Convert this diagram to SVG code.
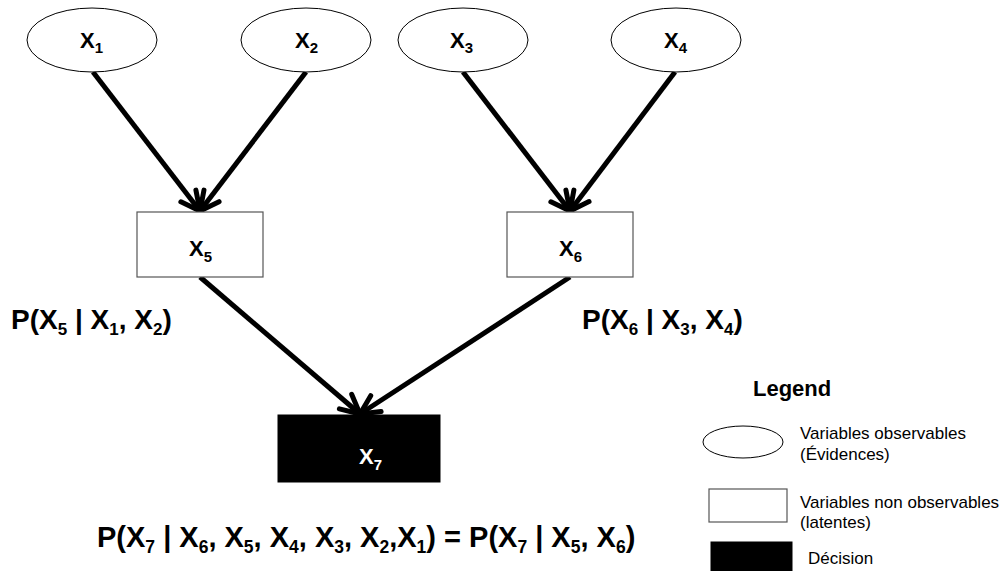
<svg xmlns="http://www.w3.org/2000/svg" width="1003" height="571" viewBox="0 0 1003 571">
<style>
.bg{fill:#fff}
.ell{fill:#fff;stroke:#000;stroke-width:1}
.box{fill:#fff;stroke:#555;stroke-width:1.2}
.dec{fill:#000;stroke:#000;stroke-width:1}
.lbl{font-family:"Liberation Sans",Arial,sans-serif;font-weight:bold;font-size:22px;fill:#000}
.lbl .sub{font-size:15px}
.wht{fill:#fff}
.eq{font-family:"Liberation Sans",Arial,sans-serif;font-weight:bold;font-size:28px;fill:#000}
.eq .sub{font-size:17px}
.cap{font-size:29px}
.cap .sub{font-size:17.5px}
.leg{font-family:"Liberation Sans",Arial,sans-serif;font-size:17px;fill:#000}
.legt{font-family:"Liberation Sans",Arial,sans-serif;font-weight:bold;font-size:22px;fill:#000}
.edge{stroke:#000;stroke-width:5;fill:none;marker-end:url(#arr)}
</style>
<defs>
<marker id="arr" markerUnits="userSpaceOnUse" viewBox="-25 -15 30 30" refX="0" refY="0" markerWidth="30" markerHeight="30" orient="auto" overflow="visible">
<path d="M-19,-9.5 L0,0 L-19,9.5" fill="none" stroke="#000" stroke-width="5" stroke-linecap="round" stroke-linejoin="round"/>
</marker>
</defs>
<rect class="bg" x="0" y="0" width="1003" height="571"/>
<g id="connectors">
<line class="edge" x1="93" y1="72" x2="200" y2="211"/>
<line class="edge" x1="306" y1="72" x2="200" y2="211"/>
<line class="edge" x1="463" y1="72" x2="570" y2="211"/>
<line class="edge" x1="675" y1="72" x2="570" y2="211"/>
<line class="edge" x1="200" y1="277" x2="360" y2="414"/>
<line class="edge" x1="570" y1="277" x2="360" y2="414"/>
</g>
<g id="X1">
<ellipse class="ell" cx="92" cy="40" rx="65" ry="32"/>
<text class="lbl" x="80" y="48">X<tspan class="sub" dy="5">1</tspan></text>
</g>
<g id="X2">
<ellipse class="ell" cx="306" cy="40" rx="65" ry="32"/>
<text class="lbl" x="295" y="48">X<tspan class="sub" dy="5">2</tspan></text>
</g>
<g id="X3">
<ellipse class="ell" cx="463" cy="40" rx="65" ry="32"/>
<text class="lbl" x="450" y="48">X<tspan class="sub" dy="5">3</tspan></text>
</g>
<g id="X4">
<ellipse class="ell" cx="676" cy="40" rx="65" ry="32"/>
<text class="lbl" x="664" y="48">X<tspan class="sub" dy="5">4</tspan></text>
</g>
<g id="X5">
<rect class="box" x="137" y="212" width="126" height="65"/>
<text class="lbl" x="189" y="256">X<tspan class="sub" dy="6">5</tspan></text>
</g>
<g id="X6">
<rect class="box" x="507" y="212" width="126" height="65"/>
<text class="lbl" x="559" y="256">X<tspan class="sub" dy="6">6</tspan></text>
</g>
<g id="X7">
<rect class="dec" x="278" y="415" width="162" height="67"/>
<text class="lbl wht" x="359" y="464">X<tspan class="sub" dy="6">7</tspan></text>
</g>
<g id="labels">
<text class="eq" x="11" y="329">P(X<tspan class="sub" dy="6">5</tspan><tspan dy="-6"> | X</tspan><tspan class="sub" dy="6">1</tspan><tspan dy="-6">, X</tspan><tspan class="sub" dy="6">2</tspan><tspan dy="-6">)</tspan></text>
<text class="eq" x="582" y="329">P(X<tspan class="sub" dy="6">6</tspan><tspan dy="-6"> | X</tspan><tspan class="sub" dy="6">3</tspan><tspan dy="-6">, X</tspan><tspan class="sub" dy="6">4</tspan><tspan dy="-6">)</tspan></text>
<text class="eq cap" x="97" y="547">P(X<tspan class="sub" dy="6">7</tspan><tspan dy="-6"> | X</tspan><tspan class="sub" dy="6">6</tspan><tspan dy="-6">, X</tspan><tspan class="sub" dy="6">5</tspan><tspan dy="-6">, X</tspan><tspan class="sub" dy="6">4</tspan><tspan dy="-6">, X</tspan><tspan class="sub" dy="6">3</tspan><tspan dy="-6">, X</tspan><tspan class="sub" dy="6">2</tspan><tspan dy="-6">,X</tspan><tspan class="sub" dy="6">1</tspan><tspan dy="-6">) = P(X</tspan><tspan class="sub" dy="6">7</tspan><tspan dy="-6"> | X</tspan><tspan class="sub" dy="6">5</tspan><tspan dy="-6">, X</tspan><tspan class="sub" dy="6">6</tspan><tspan dy="-6">)</tspan></text>
</g>
<g id="legend">
<text class="legt" x="753" y="396">Legend</text>
<ellipse class="ell" cx="743" cy="442" rx="40" ry="16"/>
<text class="leg" x="800" y="439">Variables observables</text>
<text class="leg" x="800" y="460">(Évidences)</text>
<rect class="box" x="709" y="489" width="78" height="33"/>
<text class="leg" x="800" y="508">Variables non observables</text>
<text class="leg" x="800" y="528">(latentes)</text>
<rect class="dec" x="711" y="542" width="81" height="32"/>
<text class="leg" x="808" y="564">Décision</text>
</g>
</svg>
